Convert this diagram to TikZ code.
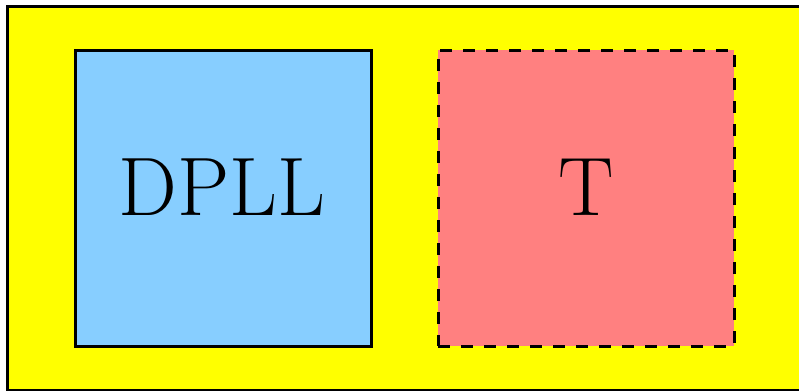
\documentclass[tikz,border=0pt]{standalone}
\begin{document}
\begin{tikzpicture}[x=0.5pt,y=-0.5pt,
  box/.style={draw=black,line width=1.5pt,minimum width=148pt,minimum height=148pt,inner sep=0pt},
  lbl/.style={font=\fontsize{41.5}{50}\selectfont,inner sep=0pt}]
\useasboundingbox (0,0) rectangle (799,391);
\clip (0,0) rectangle (799,391);
\node[draw=black,fill={rgb,255:red,255;green,255;blue,0},line width=1.5pt,minimum width=397.5pt,minimum height=192pt,inner sep=0pt] (outer) at (404.5,198) {};
\node[box,fill={rgb,255:red,135;green,206;blue,255}] (dpll) at (223,198) {};
\node[box,dash pattern=on 6pt off 5.5pt,fill={rgb,255:red,255;green,128;blue,128}] (t) at (586,198) {};
\node[lbl] (dplltext) at (222,187.5) {DPLL};
\node[lbl] (ttext) at (586,187.5) {T};
\end{tikzpicture}
\end{document}
